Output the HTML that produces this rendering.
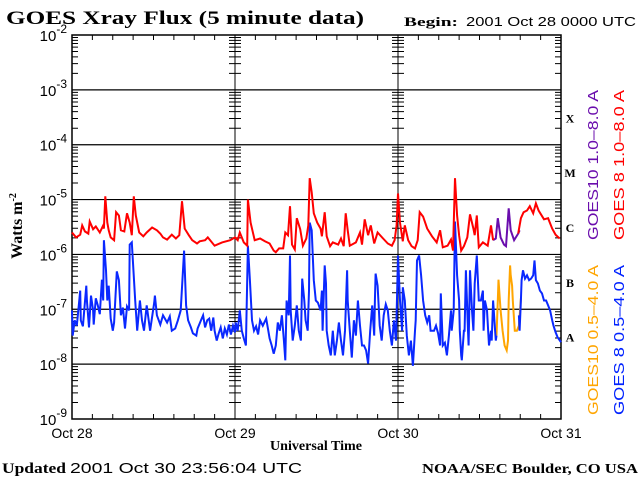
<!DOCTYPE html>
<html><head><meta charset="utf-8"><style>
body{margin:0;background:#fff;width:640px;height:480px;overflow:hidden}
svg{display:block}
.serif{font-family:"Liberation Serif",serif;font-weight:bold}
.sans{font-family:"Liberation Sans",sans-serif}
</style></head><body>
<svg id="chart" width="640" height="480" xmlns="http://www.w3.org/2000/svg">
<text class="serif" x="6" y="24" font-size="19" textLength="358" lengthAdjust="spacingAndGlyphs">GOES Xray Flux (5 minute data)</text>
<text class="serif" x="404" y="26" font-size="13" textLength="54" lengthAdjust="spacingAndGlyphs">Begin:</text>
<text class="sans" x="466" y="26" font-size="13" textLength="170" lengthAdjust="spacingAndGlyphs">2001 Oct 28 0000 UTC</text>
<text class="serif" transform="translate(22,226) rotate(-90)" text-anchor="middle" font-size="16">Watts m<tspan font-size="10" dy="-6">-2</tspan></text>
<text class="serif" x="270" y="450" font-size="14" textLength="92" lengthAdjust="spacingAndGlyphs">Universal Time</text>
<text class="serif" x="2" y="473" font-size="15" textLength="64" lengthAdjust="spacingAndGlyphs">Updated</text>
<text class="sans" x="70" y="473" font-size="15" textLength="232" lengthAdjust="spacingAndGlyphs">2001 Oct 30 23:56:04 UTC</text>
<text class="serif" x="422" y="473" font-size="14" textLength="216" lengthAdjust="spacingAndGlyphs">NOAA/SEC Boulder, CO USA</text>
<g class="sans" font-size="15">
<text transform="translate(598,240) rotate(-90)" textLength="150" lengthAdjust="spacingAndGlyphs" fill="#6a0dad">GOES10 1.0–8.0 A</text>
<text transform="translate(624,240) rotate(-90)" textLength="150" lengthAdjust="spacingAndGlyphs" fill="#ff0000">GOES 8 1.0–8.0 A</text>
<text transform="translate(598,415) rotate(-90)" textLength="150" lengthAdjust="spacingAndGlyphs" fill="#ffa500">GOES10 0.5–4.0 A</text>
<text transform="translate(624,415) rotate(-90)" textLength="150" lengthAdjust="spacingAndGlyphs" fill="#0022ff">GOES 8 0.5–4.0 A</text>
</g>
<g id="axes"></g>
<g id="series"></g>
</svg>
<script>
const dayLabels=["Oct 28","Oct 29","Oct 30","Oct 31"];
const decades=[-2,-3,-4,-5,-6,-7,-8,-9];
const classLabels=["X","M","C","B","A"];
const classExps=[-4,-5,-6,-7,-8];
const redT=[0,0.6,1.2,1.5,1.9,2.4,2.6,3.1,3.5,4.1,4.6,4.7,4.9,5.2,5.4,5.7,6.2,6.5,6.9,7.2,7.7,8.1,8.5,8.8,9.1,9.4,9.9,10.5,11,11.8,12.5,13,13.4,14,14.7,15.3,15.8,16.2,16.6,17.2,17.7,18.4,18.8,19.6,20,21,22.1,23.3,24,24.4,24.7,25.3,25.8,25.9,26.3,26.9,27.7,28.4,29.1,29.7,30,30.5,31.1,31.4,31.8,32.1,32.4,32.8,33.1,33.6,34,34.5,34.8,35,35.3,35.6,36.1,36.6,36.8,37.2,37.5,38,38.4,39.2,39.6,40,40.3,40.6,40.9,41.8,42.4,42.7,43.1,43.6,44,44.5,45,45.8,46.5,47.1,47.5,47.8,48,48.3,48.7,49,49.5,50,50.5,50.9,51.2,51.7,52.3,53,53.7,54.2,54.6,55.3,55.8,56.1,56.4,56.7,57,57.3,57.7,58.2,58.6,59.1,59.3,59.6,59.9,60.5,61.2,61.7,62,62.3,65.7,66.1,66.5,67,67.4,67.9,68.3,68.7,69.5,70.1,70.7,71.2,71.8];
const redV=[-5.60,-5.69,-5.64,-5.47,-5.58,-5.62,-5.40,-5.54,-5.49,-5.60,-5.47,-5.53,-4.94,-5.42,-5.56,-5.69,-5.74,-5.23,-5.29,-5.56,-5.58,-5.25,-5.42,-5.65,-4.94,-5.29,-5.60,-5.67,-5.60,-5.51,-5.56,-5.62,-5.69,-5.73,-5.64,-5.71,-5.65,-5.03,-5.53,-5.65,-5.74,-5.80,-5.76,-5.74,-5.69,-5.84,-5.78,-5.74,-5.69,-5.74,-5.60,-5.78,-5.84,-5.00,-5.42,-5.74,-5.71,-5.76,-5.80,-5.93,-5.96,-5.89,-5.89,-5.60,-5.65,-5.12,-5.82,-5.91,-5.34,-5.54,-5.84,-5.71,-5.47,-4.61,-4.87,-5.25,-5.42,-5.53,-5.67,-5.23,-5.67,-5.85,-5.78,-5.82,-5.71,-5.85,-5.25,-5.56,-5.84,-5.78,-5.60,-5.82,-5.36,-5.65,-5.47,-5.80,-5.60,-5.71,-5.80,-5.84,-5.74,-5.47,-4.89,-5.42,-5.76,-5.47,-5.74,-5.85,-5.89,-5.74,-5.23,-5.31,-5.53,-5.67,-5.78,-5.56,-5.87,-5.84,-5.73,-5.93,-4.61,-5.29,-5.65,-5.93,-5.85,-5.69,-5.27,-5.53,-5.65,-5.29,-5.87,-5.78,-5.84,-5.47,-5.74,null,-5.62,-5.34,-5.23,-5.20,-5.12,-5.25,-5.07,-5.20,-5.36,-5.34,-5.53,-5.64,-5.71];
const purpleT=[62,62.4,62.7,63.1,63.6,63.9,64.3,64.6,65.1,65.7,65.9];
const purpleV=[-5.74,-5.71,-5.34,-5.69,-5.82,-5.85,-5.16,-5.56,-5.74,-5.62,-5.56];
const blueT=[0,0.1,0.4,0.7,1,1.2,1.3,1.6,2.1,2.2,2.4,2.5,2.8,3.1,3.2,3.5,3.8,4.1,4.4,4.6,4.7,5,5.2,5.4,5.7,6,6.2,6.6,6.9,7.2,7.5,7.8,8.1,8.4,8.5,8.8,9.3,9.6,10,10.3,10.6,11,11.5,12.1,12.2,12.5,13,13.4,14,14.4,14.7,15.2,15.6,16,16.5,16.8,17.1,17.5,17.8,18.3,18.5,19,19.3,19.6,19.9,20.2,20.5,20.8,21,21.3,21.6,21.9,22.2,22.5,22.8,23.1,23.4,23.7,24,24.1,24.4,24.7,25,25.3,25.6,25.9,26.2,26.5,26.8,27.1,27.4,27.7,28.1,28.6,28.9,29.1,29.4,29.7,30,30.3,30.6,30.9,31.2,31.4,31.6,31.9,32.1,32.2,32.5,32.8,33.1,33.4,33.7,33.9,34.2,34.4,34.7,34.9,35,35.3,35.6,35.9,36.2,36.6,36.8,36.9,37.2,37.4,37.5,37.8,38.1,38.4,38.7,39,39.3,39.6,39.9,40.2,40.5,40.6,40.9,41.2,41.5,41.8,42.1,42.4,42.7,43,43.3,43.6,43.9,44.2,44.5,44.6,44.7,45,45.3,45.6,45.9,46.2,46.5,46.8,47.1,47.4,47.7,48,48.3,48.6,48.7,49,49.3,49.6,49.9,50.2,50.5,50.6,50.8,51.1,51.4,51.7,52,52.3,52.6,52.8,53.3,53.6,53.9,54.2,54.3,54.6,54.9,55.2,55.5,55.8,55.9,56.2,56.4,56.7,57,57.1,57.3,57.4,57.7,57.8,58,58.3,58.4,58.6,58.9,59.1,59.3,59.6,59.9,60.2,60.5,60.6,60.8,61.1,61.4,61.7,61.8,62,62.3,62.4,62.5,63,65.8,65.9,66.1,66.2,66.4,66.7,67,67.3,67.6,67.9,68.1,68.3,68.6,68.9,69.2,69.5,69.8,70.1,70.4,70.7,70.9,71.2,71.5,72];
const blueV=[-7.02,-7.48,-7.20,-7.30,-6.93,-6.66,-7.20,-7.31,-6.57,-6.84,-7.17,-7.33,-6.75,-7.02,-7.28,-6.80,-6.93,-7.09,-6.46,-6.84,-5.74,-6.29,-6.84,-6.57,-7.17,-7.39,-7.24,-6.31,-6.47,-7.11,-6.97,-7.35,-6.95,-7.02,-5.82,-5.78,-6.84,-7.39,-6.84,-7.20,-7.39,-6.93,-7.39,-6.88,-6.75,-7.11,-7.28,-7.11,-7.24,-7.13,-7.39,-7.35,-7.20,-7.02,-5.93,-6.93,-7.20,-7.33,-7.44,-7.48,-7.35,-7.20,-7.11,-7.33,-7.20,-7.17,-7.39,-7.15,-7.39,-7.57,-7.44,-7.33,-7.53,-7.35,-7.46,-7.28,-7.46,-7.30,-7.42,-7.24,-7.39,-7.02,-7.39,-7.53,-7.66,-5.84,-6.47,-7.20,-7.39,-7.31,-7.46,-7.20,-7.30,-7.17,-7.39,-7.53,-7.66,-7.81,-7.66,-7.24,-7.39,-7.11,-7.57,-7.93,-6.84,-7.11,-6.02,-7.02,-7.57,-7.30,-6.93,-7.39,-7.57,-6.44,-6.84,-7.20,-7.39,-6.66,-5.42,-5.56,-6.47,-6.84,-6.88,-7.02,-6.66,-7.39,-6.20,-6.53,-7.39,-7.66,-7.84,-7.39,-7.84,-7.57,-7.24,-7.57,-7.84,-7.39,-6.29,-6.84,-7.39,-7.88,-7.20,-7.48,-6.84,-7.30,-7.66,-7.66,-7.75,-7.99,-7.39,-6.93,-7.48,-6.84,-6.35,-6.57,-7.30,-7.57,-7.11,-6.91,-7.02,-7.39,-7.66,-7.20,-7.57,-6.02,-6.84,-7.39,-6.60,-6.84,-7.48,-7.84,-7.57,-8.03,-7.39,-7.20,-6.11,-6.02,-6.38,-6.84,-7.11,-7.24,-7.11,-7.39,-7.39,-7.30,-7.44,-7.66,-6.71,-7.66,-7.61,-7.84,-7.48,-7.02,-7.39,-7.02,-5.40,-6.38,-6.84,-7.39,-7.84,-7.93,-7.39,-7.39,-6.29,-7.39,-7.66,-6.29,-7.02,-7.39,-6.53,-6.02,-6.84,-6.84,-6.66,-7.39,-6.84,-7.02,-7.66,-7.39,-7.57,-6.84,-7.39,-7.57,-7.48,null,-7.11,-7.39,-6.84,-6.47,-6.29,-6.44,-6.38,-6.47,-6.44,-6.38,-6.11,-6.47,-6.53,-6.66,-6.71,-6.84,-6.84,-6.93,-7.02,-7.20,-7.30,-7.42,-7.51,-7.60];
const orangeT=[62.3,62.5,62.7,62.8,63,63.1,63.4,63.7,64,64.2,64.3,64.5,64.6,64.8,64.9,65.1,65.2,65.5,65.8,66.1];
const orangeV=[-7.35,-7.48,-6.84,-6.46,-6.84,-7.02,-7.39,-7.66,-7.75,-7.57,-6.84,-6.20,-6.38,-6.57,-6.84,-7.20,-7.39,-7.39,-7.30,-6.80];

const L=72,R=561,T=35,B=419;
const xs=h=>L+(R-L)*h/72;
const ys=e=>T+(B-T)*(-2-e)/7;
const NS="http://www.w3.org/2000/svg";
const axes=document.getElementById('axes'), ser=document.getElementById('series');
function mk(tag,at,parent){const e=document.createElementNS(NS,tag);for(const k in at)e.setAttribute(k,at[k]);parent.appendChild(e);return e;}
let d="";
const frame=mk('rect',{x:L,y:T,width:R-L,height:B-T,fill:'none',stroke:'#000','stroke-width':1.5},axes);


decades.forEach((e,i)=>{
  const y=ys(e);
  if(i>0&&i<decades.length-1){const g=mk('line',{x1:L,x2:R,y1:y,y2:y,stroke:'#000','stroke-width':1.2},axes);
    
    }
  const t=mk('text',{x:L-5,y:y+6,'text-anchor':'end','font-size':15,'font-family':'Liberation Sans, sans-serif'},axes);
  
  
  t.innerHTML='10<tspan font-size="12" dy="-8">'+e+'</tspan>';
  if(e>-9){for(let m=2;m<=9;m++){const yy=ys(e-1+Math.log10(m));
    [L,xs(24),xs(48)].forEach(x0=>{d+=`M${x0} ${yy}h6`;});
    [xs(24),xs(48),R].forEach(x0=>{d+=`M${x0} ${yy}h-6`;});}}
});
for(let h=0;h<=72;h+=3){const x=xs(h);const len=h%24==0?10:5;d+=`M${x} ${B}v${-len}M${x} ${T}v${len}`;}
[24,48].forEach(h=>{d+=`M${xs(h)} ${T}V${B}`;});
const tk=mk('path',{d:d,stroke:'#000','stroke-width':1,fill:'none'},axes);


dayLabels.forEach((s,i)=>{const t=mk('text',{x:xs(i*24),y:438,'text-anchor':'middle','font-size':14,'font-family':'Liberation Sans, sans-serif'},axes);
  
  
  t.textContent=s;});
classLabels.forEach((s,i)=>{const t=mk('text',{x:570,y:ys(classExps[i]+0.5)+5,'text-anchor':'middle','font-size':12,'font-family':'Liberation Serif, serif','font-weight':'bold'},axes);
  
  
  t.textContent=s;});
function line(T_,V_,color,name){let p="",pen=false;
  T_.forEach((h,i)=>{const v=V_[i];if(v===null){pen=false;return;}p+=(pen?"L":"M")+xs(h).toFixed(1)+" "+ys(v).toFixed(1);pen=true;});
  const e=mk('path',{d:p,stroke:color,'stroke-width':2,fill:'none','stroke-linejoin':'miter'},ser);
  
  }
line(orangeT,orangeV,'#ffa500','goes10-short-series');
line(blueT,blueV,'#0a28ff','goes8-short-series');
line(purpleT,purpleV,'#6a0dad','goes10-long-series');
line(redT,redV,'#ff0000','goes8-long-series');
</script>
</body></html>
